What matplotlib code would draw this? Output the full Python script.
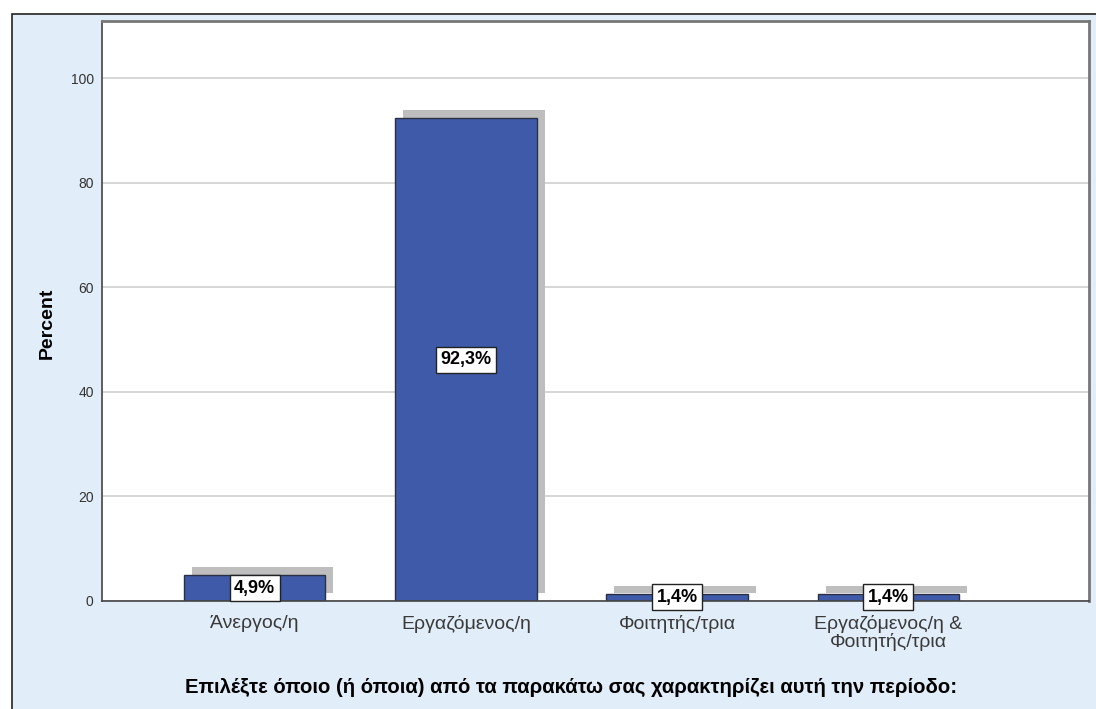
import matplotlib.pyplot as plt
import matplotlib.patches as mpatches
from matplotlib.transforms import offset_copy
import numpy as np

categories = ["Άνεργος/η", "Εργαζόμενος/η", "Φοιτητής/τρια", "Εργαζόμενος/η &\nΦοιτητής/τρια"]
percents = [4.9, 92.3, 1.4, 1.4]
value_labels = ["4,9%", "92,3%", "1,4%", "1,4%"]
y_ticks = [0, 20, 40, 60, 80, 100]

plt.rcParams['font.family'] = ['Liberation Sans', 'DejaVu Sans']

fig = plt.figure(figsize=(10.96, 7.09), dpi=100, facecolor='white')

# Light blue chart background with a dark frame
frame = mpatches.Rectangle((12 / 1096, -0.01), 1.0, 1 - 14 / 709 + 0.01,
                           transform=fig.transFigure, facecolor='#E1EDF9',
                           edgecolor='#222222', linewidth=1.2, zorder=-5)
fig.patches.append(frame)

ax = fig.add_axes([102 / 1096, 1 - 601 / 709, (1089 - 102) / 1096, (601 - 21) / 709])
ax.set_zorder(1)
ax.set_facecolor('white')

x = np.arange(len(categories))
width = 0.67

# Drop shadow: same bars shifted a few pixels up and to the right
shadow_tr = offset_copy(ax.transData, fig=fig, x=8, y=8, units='dots')
ax.bar(x, percents, width=width, color='#BEBEBE', linewidth=0,
       transform=shadow_tr, zorder=2)
ax.bar(x, percents, width=width, color='#3E5AA8', edgecolor='#2a2f45',
       linewidth=1.0, zorder=3)

for xi, val, lab in zip(x, percents, value_labels):
    ax.text(xi, val / 2, lab, ha='center', va='center', fontsize=13,
            fontweight='bold', color='black', zorder=5,
            bbox=dict(boxstyle='square,pad=0.25', facecolor='white',
                      edgecolor='#222222', linewidth=1.0))

ax.set_xlim(-0.723, 3.95)
ax.set_ylim(0, 110.9)
ax.set_yticks(y_ticks)
ax.set_xticks(x)
ax.set_xticklabels(categories, fontsize=14, color='#3a3a3a', linespacing=0.98)
ax.tick_params(axis='y', labelsize=10, colors='#333333', length=0, pad=6)
ax.tick_params(axis='x', length=0, pad=10)

ax.yaxis.grid(True, color='#CFCFCF', linewidth=1.2, zorder=1)
ax.set_axisbelow(True)

for side in ['left', 'bottom']:
    ax.spines[side].set_color('#444444')
    ax.spines[side].set_linewidth(1.2)
for side in ['top', 'right']:
    ax.spines[side].set_color('#777777')
    ax.spines[side].set_linewidth(2.0)
ax.spines['bottom'].set_zorder(4)

ax.set_ylabel("Percent", fontsize=14, fontweight='bold', color='black')
ax.yaxis.set_label_coords(-0.047, 0.479)

xmin, xmax = ax.get_xlim()
ax.set_xlabel("Επιλέξτε όποιο (ή όποια) από τα παρακάτω σας χαρακτηρίζει αυτή την περίοδο:",
              fontsize=14.6, fontweight='bold', color='black')
ax.xaxis.set_label_coords((1.5 - xmin) / (xmax - xmin), -0.133)

fig.savefig("out.png", dpi=100)
